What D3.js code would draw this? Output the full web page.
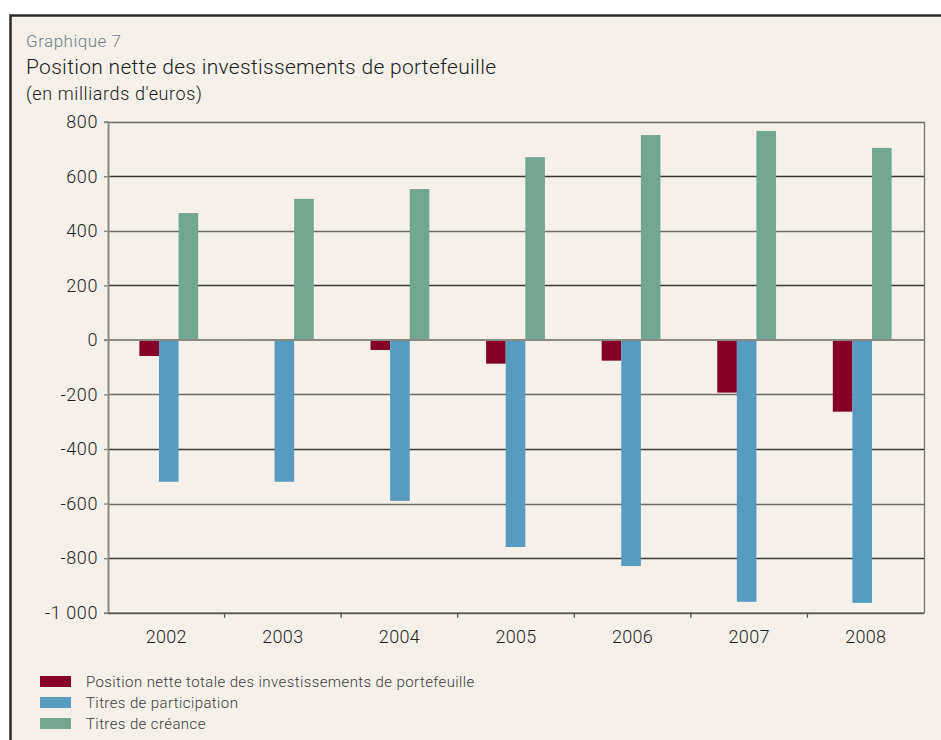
<!DOCTYPE html>
<html>
<head>
<meta charset="utf-8">
<script src="https://cdn.jsdelivr.net/npm/d3@7"></script>
<style>
  body { margin: 0; background: #fff; }
  svg text { font-family: Roboto, "Noto Sans", sans-serif; font-weight: 300; }
</style>
</head>
<body>
<div id="chart"></div>
<script>
const years = ['2002', '2003', '2004', '2005', '2006', '2007', '2008']
const seriesNames = [
  'Position nette totale des investissements de portefeuille',
  'Titres de participation',
  'Titres de créance'
]
const netTotal = [-59, -4, -37, -87, -76, -193, -263]
const equity = [-520, -520, -590, -759, -829, -960, -964]
const debt = [465, 517, 553, 670, 751, 766, 704]
const yTicks = [800, 600, 400, 200, 0, -200, -400, -600, -800, -1000]
const colors = ['#840027', '#579bbf', '#72a592']

const width = 941
const height = 740
const margin = { top: 122, right: 17, bottom: 128, left: 108 }

const svg = d3.select('#chart')
  .append('svg')
  .attr('width', width)
  .attr('height', height)

// outer frame
svg.append('rect')
  .attr('x', 10.5).attr('y', 15.5)
  .attr('width', width + 10).attr('height', height + 10)
  .attr('fill', '#f5f1ea')
  .attr('stroke', '#2a2a2a')
  .attr('stroke-width', 2.5)

svg.append('text')
  .attr('x', 26).attr('y', 47)
  .attr('fill', '#6f7f8a')
  .style('font-size', '17px')
  .style('letter-spacing', '0.5px')
  .text('Graphique 7')

svg.append('text')
  .attr('x', 26).attr('y', 74)
  .attr('fill', '#1a1a1a')
  .style('font-size', '21px')
  .style('letter-spacing', '0.3px')
  .text('Position nette des investissements de portefeuille')

svg.append('text')
  .attr('x', 26).attr('y', 100)
  .attr('fill', '#1a1a1a')
  .style('font-size', '18px')
  .style('letter-spacing', '0.6px')
  .text("(en milliards d'euros)")

const y = d3.scaleLinear()
  .domain([-1000, 800])
  .range([height - margin.bottom + 0.7, margin.top - 0.3])

const x = d3.scaleBand()
  .domain(years)
  .range([margin.left, width - margin.right])

// bar groups sit slightly inside the category bands, as in the original
const xBars = d3.scaleBand()
  .domain(years)
  .range([111, 920])

const barW = 19.6
const xInner = d3.scaleBand()
  .domain(d3.range(3))
  .range([-1.5 * barW, 1.5 * barW])

const locale = d3.formatLocale({ decimal: ',', thousands: ' ', grouping: [3], currency: ['', ' €'], minus: '-' })
const fmt = locale.format(',d')

// grid
const grid = svg.append('g').classed('grid', true)
grid.selectAll('line')
  .data(yTicks.filter(d => d !== 0))
  .join('line')
  .attr('x1', margin.left)
  .attr('x2', width - margin.right)
  .attr('y1', d => Math.round(y(d)) + 0.5)
  .attr('y2', d => Math.round(y(d)) + 0.5)
  .attr('stroke', (d, i) => i % 2 ? '#3a3735' : '#6e6a66')
  .attr('stroke-width', 1.3)

// right border of plot
svg.append('line')
  .attr('x1', width - margin.right + 0.5).attr('x2', width - margin.right + 0.5)
  .attr('y1', y(800)).attr('y2', y(-1000))
  .attr('stroke', '#7a7672').attr('stroke-width', 1.3)

// bars
const series = [netTotal, equity, debt]
const barsData = []
series.forEach((vals, s) => {
  vals.forEach((v, i) => barsData.push({ year: years[i], s, value: v }))
})

svg.append('g').classed('bars', true)
  .selectAll('rect')
  .data(barsData)
  .join('rect')
  .attr('x', d => xBars(d.year) + xBars.bandwidth() / 2 + xInner(d.s))
  .attr('width', xInner.bandwidth())
  .attr('y', d => y(Math.max(0, d.value)))
  .attr('height', d => Math.abs(y(d.value) - y(0)))
  .attr('fill', d => colors[d.s])

// zero line
svg.append('line')
  .attr('x1', margin.left - 4).attr('x2', width - margin.right)
  .attr('y1', y(0)).attr('y2', y(0))
  .attr('stroke', '#8c8883').attr('stroke-width', 2)

// y axis
const yAxis = g => g
  .attr('transform', `translate(${margin.left},0)`)
  .call(d3.axisLeft(y).tickValues(yTicks).tickFormat(fmt).tickSize(4).tickPadding(6))
  .call(g => g.select('.domain').attr('stroke', '#8c8883').attr('stroke-width', 2))
  .call(g => g.selectAll('.tick line').attr('stroke', '#8c8883').attr('stroke-width', 1.5))
  .call(g => g.selectAll('text')
    .attr('fill', '#1f1f1f')
    .style('font-size', '18px')
    .style('letter-spacing', '0.6px')
    .style('font-family', 'Roboto, sans-serif'))

svg.append('g').call(yAxis)

// x axis
const xAxis = g => g
  .attr('transform', `translate(0,${y(-1000)})`)
  .call(d3.axisBottom(x).tickSize(0).tickPadding(18))
  .call(g => g.select('.domain').attr('stroke', '#55514e').attr('stroke-width', 1.5))
  .call(g => g.selectAll('text')
    .attr('fill', '#1f1f1f')
    .style('font-size', '18px')
    .style('letter-spacing', '0.3px')
    .style('font-family', 'Roboto, sans-serif'))

svg.append('g').call(xAxis)

// category separator ticks
svg.append('g')
  .selectAll('line')
  .data(years.slice(1))
  .join('line')
  .attr('x1', d => x(d)).attr('x2', d => x(d))
  .attr('y1', y(-1000)).attr('y2', y(-1000) + 5)
  .attr('stroke', '#55514e').attr('stroke-width', 1.3)

// legend
const legend = svg.append('g').classed('legend', true)
const item = legend.selectAll('g')
  .data(seriesNames)
  .join('g')
  .attr('transform', (d, i) => `translate(40,${676 + i * 21})`)

item.append('rect')
  .attr('width', 31).attr('height', 11)
  .attr('fill', (d, i) => colors[i])

item.append('text')
  .attr('x', 46).attr('y', 11)
  .attr('fill', '#3a3a3a')
  .style('font-size', '15px')
  .style('letter-spacing', '0.4px')
  .text(d => d)
</script>
</body>
</html>
